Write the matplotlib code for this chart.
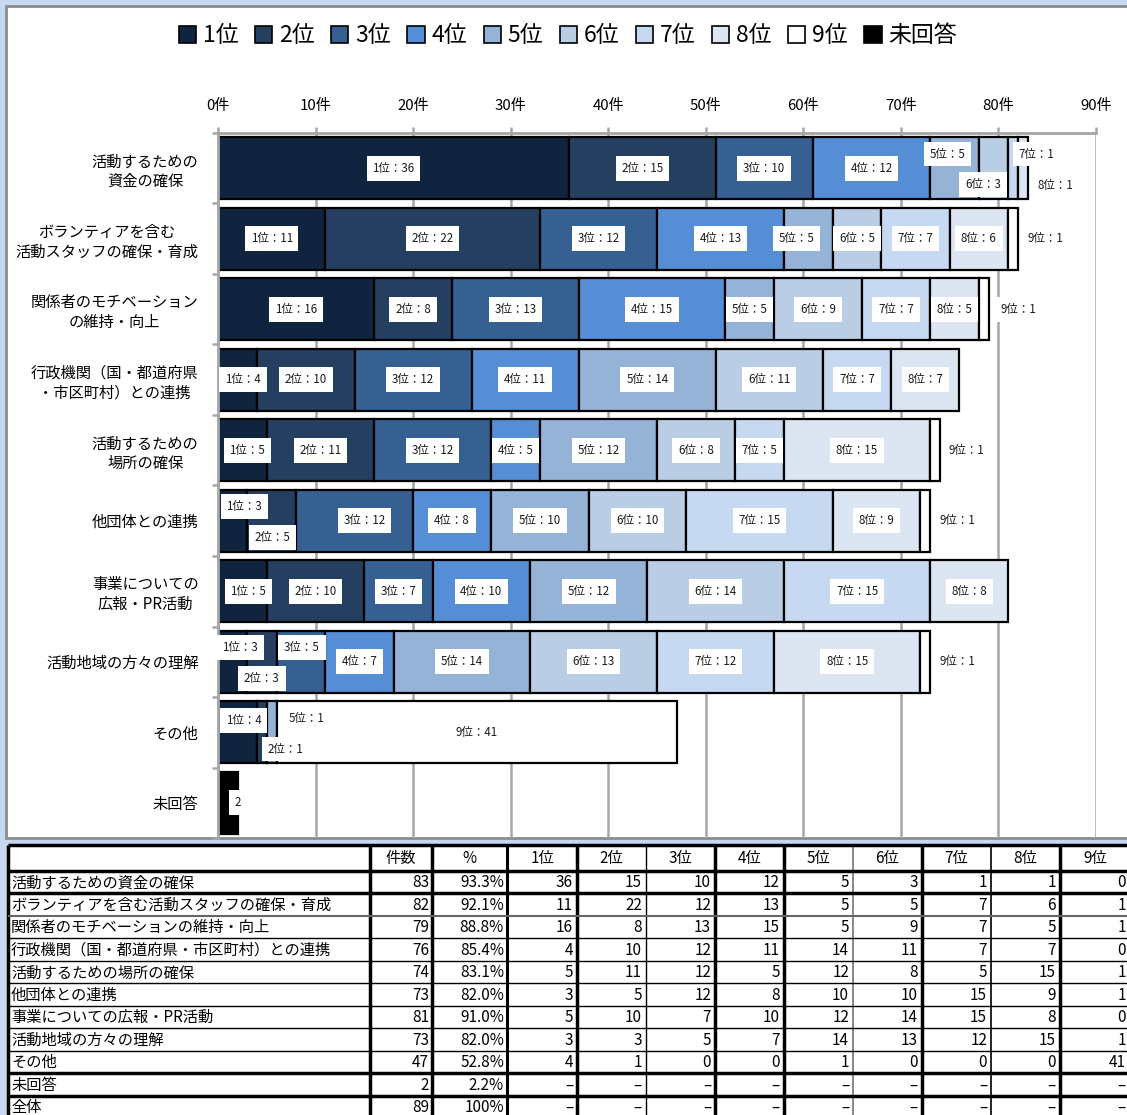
import matplotlib
matplotlib.use('Agg')
import matplotlib.pyplot as plt
from matplotlib.patches import Rectangle, Patch

plt.rcParams['font.family'] = ['Noto Sans CJK JP', 'DejaVu Sans']

# --- data -------------------------------------------------------------
categories = ['活動するための\n資金の確保', 'ボランティアを含む\n活動スタッフの確保・育成',
              '関係者のモチベーション\nの維持・向上', '行政機関（国・都道府県\n・市区町村）との連携',
              '活動するための\n場所の確保', '他団体との連携', '事業についての\n広報・PR活動',
              '活動地域の方々の理解', 'その他', '未回答']
table_labels = ['活動するための資金の確保', 'ボランティアを含む活動スタッフの確保・育成',
                '関係者のモチベーションの維持・向上', '行政機関（国・都道府県・市区町村）との連携',
                '活動するための場所の確保', '他団体との連携', '事業についての広報・PR活動',
                '活動地域の方々の理解', 'その他', '未回答', '全体']
ranks = ['1位', '2位', '3位', '4位', '5位', '6位', '7位', '8位', '9位']
rank_counts = [
    [36, 15, 10, 12, 5, 3, 1, 1, 0],
    [11, 22, 12, 13, 5, 5, 7, 6, 1],
    [16, 8, 13, 15, 5, 9, 7, 5, 1],
    [4, 10, 12, 11, 14, 11, 7, 7, 0],
    [5, 11, 12, 5, 12, 8, 5, 15, 1],
    [3, 5, 12, 8, 10, 10, 15, 9, 1],
    [5, 10, 7, 10, 12, 14, 15, 8, 0],
    [3, 3, 5, 7, 14, 13, 12, 15, 1],
    [4, 1, 0, 0, 1, 0, 0, 0, 41],
]
no_answer = 2
totals = [83, 82, 79, 76, 74, 73, 81, 73, 47, 2, 89]
percents = ['93.3%', '92.1%', '88.8%', '85.4%', '83.1%', '82.0%', '91.0%', '82.0%', '52.8%', '2.2%', '100%']

colors = ['#10243F', '#243F60', '#366092', '#558ED5', '#95B3D7',
          '#B9CDE5', '#C6D9F1', '#DCE6F2', '#FFFFFF']
na_color = '#000000'

# label nudges: (row, rank index) -> (dx in data units, dy in rows)
nudge = {
    (0, 4): (-0.7, -0.2), (0, 5): (-1.1, 0.23), (0, 6): (2.4, -0.2), (0, 7): (3.3, 0.25),
    (1, 4): (-1.2, 0), (1, 8): (3.3, 0),
    (2, 8): (3.5, 0),
    (3, 0): (0.55, 0),
    (4, 0): (0.5, 0), (4, 8): (3.2, 0),
    (5, 0): (1.2, -0.2), (5, 1): (0.1, 0.24), (5, 2): (1.0, 0), (5, 8): (3.3, 0),
    (6, 0): (0.6, 0),
    (7, 0): (0.75, -0.2), (7, 1): (0, 0.24), (7, 2): (0.1, -0.2), (7, 8): (3.3, 0),
    (8, 0): (0.65, -0.17), (8, 1): (2.4, 0.24), (8, 4): (3.6, -0.2),
}

W, H = 1127, 1115
fig = plt.figure(figsize=(W / 100, H / 100), dpi=100, facecolor='#C6D9F1')

# background / table canvas in pixel coords
bg = fig.add_axes([0, 0, 1, 1], zorder=0)
bg.set_xlim(0, W)
bg.set_ylim(H, 0)
bg.axis('off')
bg.add_patch(Rectangle((6, 6), W + 20, 838 - 6, fc='white', ec='#8C8C8C', lw=2))
bg.add_patch(Rectangle((8, 845), W, H - 845 + 5, fc='white', ec='none'))

# --- bar chart --------------------------------------------------------
ax = fig.add_axes([218 / W, 1 - 838 / H, 878 / W, (838 - 133) / H], zorder=1)
ax.patch.set_visible(False)
bar_h = 0.877
lab_box = dict(boxstyle='square,pad=0.5', fc='white', ec='none')

for i, row in enumerate(rank_counts):
    left = 0
    for j, v in enumerate(row):
        if v == 0:
            continue
        ax.barh(i, v, left=left, height=bar_h, color=colors[j], edgecolor='black', linewidth=1.6, zorder=2)
        dx, dy = nudge.get((i, j), (0, 0))
        ax.text(left + v / 2 + dx, i + dy, f'{ranks[j]}：{v}', ha='center', va='center',
                fontsize=8.3, color='#1a1a1a', bbox=lab_box, zorder=3)
        left += v

na_row = len(rank_counts)
ax.barh(na_row, no_answer, height=bar_h, color=na_color, edgecolor='black', linewidth=1.6, zorder=2)
ax.text(no_answer / 2 + 1.0, na_row, f'{no_answer}', ha='center', va='center',
        fontsize=8.3, color='#1a1a1a', bbox=lab_box, zorder=3)

ax.set_xlim(0, 90)
ax.set_ylim(len(categories) - 0.5, -0.5)
ax.set_xticks(range(0, 91, 10))
ax.set_xticklabels([f'{t}件' for t in range(0, 91, 10)])
ax.xaxis.tick_top()
ax.xaxis.grid(True, color='#A6A6A6', lw=1.8, zorder=0)
ax.set_axisbelow(True)
ax.tick_params(axis='x', length=4, width=1.8, color='#A6A6A6', pad=10.5, labelsize=10.8)
ax.set_yticks(range(len(categories)))
ax.set_yticklabels(categories, multialignment='center', linespacing=1.2)
ax.set_yticks([k - 0.5 for k in range(len(categories) + 1)], minor=True)
ax.tick_params(axis='y', which='major', length=0, pad=14, labelsize=11)
ax.tick_params(axis='y', which='minor', length=4, width=1.8, color='#A6A6A6')
for s in ['right', 'bottom']:
    ax.spines[s].set_visible(False)
for s in ['top', 'left']:
    ax.spines[s].set_color('#A6A6A6')
    ax.spines[s].set_linewidth(2)

handles = [Patch(fc=c, ec='black', lw=1.2) for c in colors] + [Patch(fc=na_color, ec='black', lw=1.2)]
fig.legend(handles, ranks + ['未回答'], ncol=10, loc='center', bbox_to_anchor=(568 / W, 1 - 36 / H),
           frameon=False, fontsize=16.5, handlelength=0.75, handleheight=0.75,
           handletextpad=0.3, columnspacing=0.72, borderaxespad=0)

# --- table ------------------------------------------------------------
col_edges = [8, 370, 432, 507, 577, 646, 715, 784, 853, 922, 991, 1060, 1130]
header_top, header_bot, row_h = 845, 870.5, 22.5
n_rows = len(table_labels)
fs = 11

headers = ['', '件数', '%'] + ranks
for k, h in enumerate(headers):
    if h:
        bg.text((col_edges[k] + col_edges[k + 1]) / 2, (header_top + header_bot) / 2 + 1, h,
                ha='center', va='center', fontsize=fs)

for r in range(n_rows):
    yc = header_bot + row_h * (r + 0.5) + 1
    bg.text(col_edges[0] + 3, yc, table_labels[r], ha='left', va='center', fontsize=fs)
    bg.text(col_edges[2] - 3, yc, str(totals[r]), ha='right', va='center', fontsize=fs)
    bg.text(col_edges[3] - 3, yc, percents[r], ha='right', va='center', fontsize=fs)
    for j in range(len(ranks)):
        val = str(rank_counts[r][j]) if r < len(rank_counts) else '–'
        bg.text(col_edges[4 + j] - 4, yc, val, ha='right', va='center', fontsize=fs)

v_styles = {8: 2.5, 370: 2.5, 432: 2.5, 507: 2.2, 577: 2.5, 646: 1.0, 715: 2.5,
            784: 2.5, 853: 1.4, 922: 2.5, 991: 1.2, 1060: 2.5}
for x, lw in v_styles.items():
    c = '#888888' if x == 853 else 'black'
    bg.plot([x, x], [header_top, H + 5], color=c, lw=lw, solid_capstyle='butt')

h_lines = [header_top, header_bot] + [header_bot + row_h * (r + 1) for r in range(n_rows - 1)]
thick_rows = {0, 1, 2, 10, 11}
for k, y in enumerate(h_lines):
    if k in thick_rows:
        bg.plot([8, W + 5], [y, y], color='black', lw=2.5, solid_capstyle='butt')
    elif k == 3:
        bg.plot([8, W + 5], [y, y], color='#666666', lw=1.5, solid_capstyle='butt')
    else:
        bg.plot([8, W + 5], [y, y], color='black', lw=1.0, solid_capstyle='butt')

fig.savefig('out.png', dpi=100, facecolor=fig.get_facecolor())
